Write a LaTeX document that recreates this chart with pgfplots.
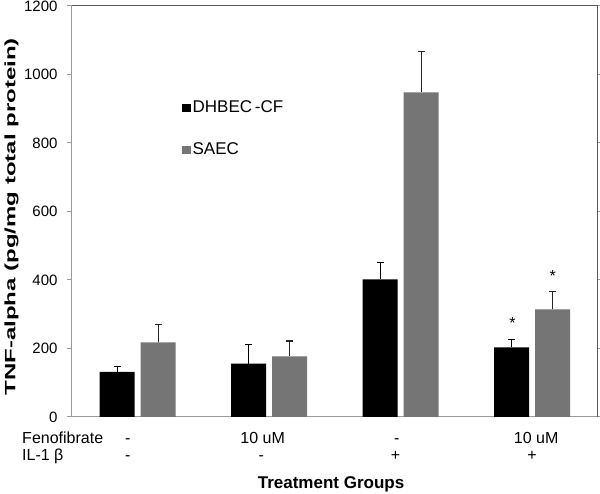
\documentclass[border=0pt]{standalone}
\usepackage{pgfplots}
\pgfplotsset{compat=1.18}
\usepackage{graphicx}
\usepackage{fontspec}
\setmainfont{Liberation Sans}
\usetikzlibrary{calc}

\definecolor{barblack}{HTML}{000000}
\definecolor{bargray}{HTML}{757575}
\definecolor{axisgray}{HTML}{9A9A9A}
\definecolor{framedark}{HTML}{5A5A5A}

\begin{document}
\begin{tikzpicture}
\fontsize{16}{19}\selectfont
\begin{axis}[
    name=ax,
    scale only axis,
    width=526pt, height=411pt,
    clip=false,
    ybar=6pt, bar width=35pt,
    xmin=-0.5, xmax=3.5,
    ymin=0, ymax=1200,
    ytick distance=200,
    xtick=\empty,
    tick align=outside,
    major tick length=4.5pt,
    ytick style={axisgray, line width=1pt},
    axis line style={axisgray, line width=1pt},
    /pgf/number format/assume math mode=true,
    /pgf/number format/1000 sep={},
    yticklabel style={font=\fontsize{15}{18}\selectfont, xshift=-4.5pt},
    ylabel={\scalebox{1.6}[1]{\bfseries TNF-alpha (pg/mg total protein)}},
    ylabel style={at={(axis description cs:-0.115,0.487)}, anchor=center, font=\fontsize{15}{18}\selectfont},
    legend style={draw=none, fill=none, at={(axis description cs:0.209,0.775)}, anchor=north west,
      font=\fontsize{17}{20}\selectfont, row sep=24pt, inner sep=0pt,
      cells={anchor=west}},
    legend image code/.code={\fill[#1] (0pt,-4.25pt) rectangle (8.5pt,4.25pt);},
    error bars/y dir=plus, error bars/y explicit,
]
\addplot[fill=barblack, draw=none, error bars/error bar style={barblack, line width=1.2pt},
  error bars/error mark options={barblack, rotate=90, mark size=3.5pt, line width=1.2pt}]
  coordinates {(0,132) +- (0,16) (1,156) +- (0,56) (2,402) +- (0,50) (3,203) +- (0,23)};
\addplot[fill=bargray, draw=none, error bars/error bar style={black!85, line width=1.2pt},
  error bars/error mark options={black!85, rotate=90, mark size=3.5pt, line width=1.2pt}]
  coordinates {(0,218) +- (0,51) (1,177) +- (0,45) (2,948) +- (0,118) (3,314) +- (0,53)};
\legend{DHBEC\,-CF, SAEC}

\draw[framedark, line width=1pt] (rel axis cs:0,1) -- (rel axis cs:1,1) -- (rel axis cs:1,0);

\node[font=\fontsize{16}{19}\selectfont] at (axis cs:2.85,274) {*};
\node[font=\fontsize{16}{19}\selectfont] at (axis cs:3.155,412) {*};

% treatment rows below the axis
\node[anchor=base west, inner sep=0pt, yshift=-27pt] at (rel axis cs:-0.095,0) {Fenofibrate};
\node[anchor=base west, inner sep=0pt, yshift=-44pt] at (rel axis cs:-0.095,0) {IL-1 β};
\node[anchor=base, inner sep=0pt, yshift=-27pt] at (axis cs:-0.076,0) {-};
\node[anchor=base, inner sep=0pt, yshift=-27pt] at (axis cs:0.95,0) {10 uM};
\node[anchor=base, inner sep=0pt, yshift=-27pt] at (axis cs:1.97,0) {-};
\node[anchor=base, inner sep=0pt, yshift=-27pt] at (axis cs:3.03,0) {10 uM};
\node[anchor=base, inner sep=0pt, yshift=-44pt] at (axis cs:-0.076,0) {-};
\node[anchor=base, inner sep=0pt, yshift=-44pt] at (axis cs:0.94,0) {-};
\node[anchor=base, inner sep=0pt, yshift=-44pt] at (axis cs:1.96,0) {+};
\node[anchor=base, inner sep=0pt, yshift=-44pt] at (axis cs:2.998,0) {+};
\node[anchor=base, inner sep=0pt, yshift=-72pt, font=\bfseries\fontsize{17}{20}\selectfont] at (axis cs:1.47,0) {Treatment Groups};
\end{axis}
\pgfresetboundingbox
\path[use as bounding box] ($(ax.south west)+(-72pt,-77pt)$) rectangle ++(600pt,494pt);
\end{tikzpicture}
\end{document}
